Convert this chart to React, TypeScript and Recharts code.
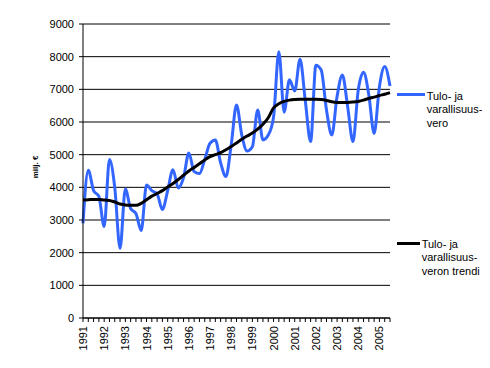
import React from 'react';
import { LineChart, Line, XAxis, YAxis, CartesianGrid } from 'recharts';

const YEARS = ['1991','1992','1993','1994','1995','1996','1997','1998','1999','2000','2001','2002','2003','2004','2005'];

// Quarterly values, 1991Q1 .. 2005Q3 (milj. €)
const TAX = [
  2900, 4520, 3900, 3720,
  2800, 4850, 3990, 2130,
  3950, 3350, 3200, 2680,
  4070, 3900, 3800, 3320,
  3900, 4540, 3980, 4300,
  5050, 4480, 4420, 4850,
  5350, 5450, 4750, 4330,
  5300, 6520, 5600, 5110,
  5240, 6370, 5450, 5600,
  6150, 8150, 6300, 7290,
  6950, 7920, 6650, 5400,
  7740, 7590, 6370, 5600,
  6780, 7440, 6470, 5400,
  6980, 7520, 6830, 5650,
  7080, 7700, 7100,
];

const TREND = [
  3610, 3620, 3630, 3630,
  3610, 3600, 3550, 3490,
  3460, 3450, 3450, 3510,
  3620, 3730, 3810, 3900,
  4010, 4120, 4240, 4370,
  4500, 4610, 4720, 4840,
  4940, 5000, 5060, 5150,
  5250, 5360, 5470, 5570,
  5660, 5780, 5930, 6130,
  6430, 6560, 6630, 6670,
  6690, 6700, 6700, 6700,
  6700, 6690, 6660, 6620,
  6600, 6600, 6600, 6610,
  6630, 6670, 6720, 6760,
  6810, 6850, 6900,
];

const Y_TICKS = [0, 1000, 2000, 3000, 4000, 5000, 6000, 7000, 8000, 9000];

const QUARTERS: string[] = [];
YEARS.forEach((y) => ['Q1', 'Q2', 'Q3', 'Q4'].forEach((q) => QUARTERS.push(y + q)));

const data = TAX.map((v, i) => ({ q: QUARTERS[i], tax: v, trend: TREND[i] }));

const FONT = 'Liberation Sans, Arial, sans-serif';

const XTick = (props: any) => {
  const { x, y, payload } = props;
  const label: string = payload.value;
  if (!label.endsWith('Q1')) return null;
  const year = label.slice(0, 4);
  return (
    <text
      x={x}
      y={y}
      transform={`rotate(-90 ${x} ${y})`}
      textAnchor="end"
      dominantBaseline="central"
      fontFamily={FONT}
      fontSize={11}
      fill="#000"
    >
      {year}
    </text>
  );
};

export default function App() {
  return (
    <div style={{ position: 'relative', width: 482, height: 360, fontFamily: FONT }}>
      <LineChart width={482} height={360} data={data} margin={{ top: 16, right: 100, left: 15, bottom: 10 }}>
        <CartesianGrid vertical={false} stroke="#000" strokeWidth={1} yAxisId="l" />
        <XAxis
          dataKey="q"
          interval={0}
          tick={<XTick />}
          tickSize={4}
          tickMargin={4}
          height={40}
          axisLine={{ stroke: '#000' }}
          tickLine={{ stroke: '#000' }}
        />
        <YAxis
          yAxisId="l"
          domain={[0, 9000]}
          ticks={Y_TICKS}
          interval={0}
          width={60}
          tickSize={4}
          tickMargin={5}
          axisLine={{ stroke: '#000' }}
          tickLine={{ stroke: '#000' }}
          tick={{ fill: '#000', fontSize: 11, fontFamily: FONT }}
          label={{
            content: () => (
              <text
                x={27}
                y={159}
                transform="rotate(-90 27 159)"
                textAnchor="middle"
                dominantBaseline="central"
                fontFamily={FONT}
                fontSize={8}
                fontWeight="bold"
                fill="#000"
              >
                milj. €
              </text>
            ),
          }}
        />
        <YAxis
          yAxisId="r"
          orientation="right"
          domain={[0, 9000]}
          width={0}
          tick={false}
          tickLine={false}
          axisLine={{ stroke: '#000' }}
        />
        <Line
          yAxisId="l"
          type="monotone"
          dataKey="tax"
          stroke="#3366FF"
          strokeWidth={3}
          dot={false}
          isAnimationActive={false}
        />
        <Line
          yAxisId="l"
          type="monotone"
          dataKey="trend"
          stroke="#000"
          strokeWidth={3}
          dot={false}
          isAnimationActive={false}
        />
      </LineChart>
      <div style={{ position: 'absolute', left: 388.7, top: 84.5, width: 28.3, height: 3, background: '#3366FF' }} />
      <div style={{ position: 'absolute', left: 418.7, top: 81.5, fontSize: 11, lineHeight: '13.5px', color: '#000', whiteSpace: 'nowrap' }}>
        Tulo- ja<br />varallisuus-<br />vero
      </div>
      <div style={{ position: 'absolute', left: 388.7, top: 233.8, width: 23.3, height: 3, background: '#000' }} />
      <div style={{ position: 'absolute', left: 413.7, top: 229.8, fontSize: 11, lineHeight: '13.5px', color: '#000', whiteSpace: 'nowrap' }}>
        Tulo- ja<br />varallisuus-<br />veron trendi
      </div>
    </div>
  );
}
